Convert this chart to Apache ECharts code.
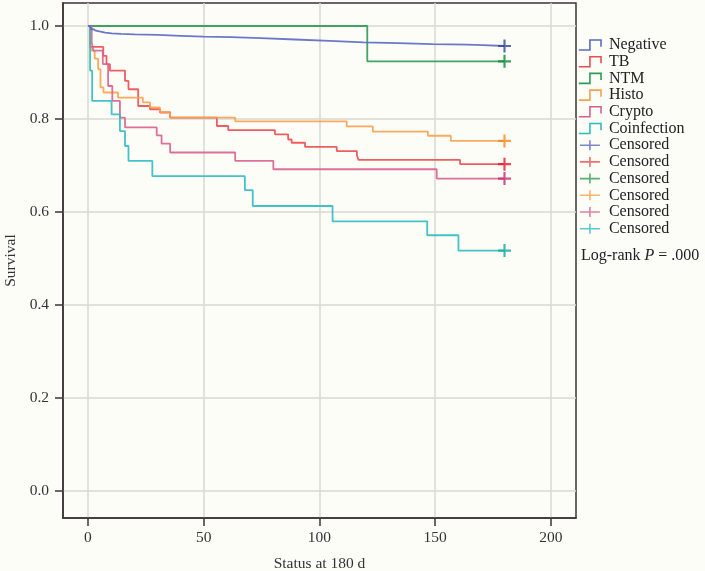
<!DOCTYPE html>
<html>
<head>
<meta charset="utf-8">
<script src="https://cdn.jsdelivr.net/npm/echarts@6/dist/echarts.min.js"></script>
<style>
html,body{margin:0;padding:0;background:#fdfdf8;}
#c{width:705px;height:571px;}
</style>
</head>
<body>
<div id="c"></div>
<script>
// ---- data ----
var groupNames = ['Negative', 'TB', 'NTM', 'Histo', 'Crypto', 'Coinfection'];
var xTicks = [0, 50, 100, 150, 200];
var yTicks = [0.0, 0.2, 0.4, 0.6, 0.8, 1.0];
var censorTime = 180;

var negTime = [0, 0.9, 1.4, 2.4, 3.4, 5.4, 7.4, 10.3, 14.3, 20.2, 30.1, 40.0, 49.9, 61.8, 74.7, 89.5, 104.4, 119.2, 134.1, 148.9, 163.8, 170.7, 180];
var negSurv = [1.0, 0.996, 0.993, 0.990, 0.988, 0.986, 0.984, 0.983, 0.982, 0.981, 0.979, 0.977, 0.976, 0.974, 0.971, 0.968, 0.965, 0.963, 0.961, 0.960, 0.959, 0.957, 0.957];

var tbTime = [0, 0.9, 6.6, 8.0, 9.5, 16.0, 17.5, 21.7, 26.8, 31.1, 35.5, 55.7, 60.6, 80.8, 86.5, 88.0, 93.8, 107.5, 116.2, 116.9, 160.8, 180];
var tbSurv = [1.0, 0.955, 0.936, 0.918, 0.904, 0.882, 0.864, 0.828, 0.821, 0.814, 0.803, 0.785, 0.776, 0.767, 0.756, 0.749, 0.740, 0.731, 0.722, 0.712, 0.703, 0.703];

var ntmTime = [0, 120.7, 180];
var ntmSurv = [1.0, 0.924, 0.924];

var histoTime = [0, 0.9, 1.6, 2.9, 4.4, 5.4, 6.7, 13.0, 23.7, 26.8, 31.1, 35.5, 63.6, 111.8, 123.1, 146.9, 156.8, 180];
var histoSurv = [1.0, 0.955, 0.947, 0.930, 0.907, 0.868, 0.857, 0.846, 0.836, 0.825, 0.815, 0.803, 0.795, 0.784, 0.773, 0.764, 0.753, 0.753];

var cryptoTime = [0, 1.6, 2.3, 6.4, 8.7, 10.5, 13.8, 16.0, 29.7, 31.8, 35.5, 63.6, 80.1, 150.7, 180];
var cryptoSurv = [1.0, 0.965, 0.947, 0.918, 0.871, 0.839, 0.803, 0.782, 0.765, 0.747, 0.728, 0.710, 0.692, 0.672, 0.672];

var coinTime = [0, 0.9, 1.8, 10.2, 13.8, 16.0, 17.5, 27.8, 67.8, 71.2, 105.7, 146.6, 160.1, 180];
var coinSurv = [1.0, 0.904, 0.839, 0.810, 0.774, 0.742, 0.710, 0.677, 0.647, 0.613, 0.580, 0.550, 0.517, 0.517];

var censorSurv = [0.957, 0.703, 0.924, 0.753, 0.672, 0.517];

// ---- styles ----
var lineColors = ['#5b69c4', '#ee4b4f', '#2f9a55', '#f8a14e', '#d8608f', '#2fbcc0'];
var markColors = ['#2c469e', '#e8182e', '#0a8a3c', '#f5891c', '#c9286c', '#10a6a8'];
var FONT = 'Liberation Serif';
var FS = 15.5;

function pairs(t, s) { return t.map(function (v, i) { return [v, s[i]]; }); }
var timeSets = [negTime, tbTime, ntmTime, histoTime, cryptoTime, coinTime];
var survSets = [negSurv, tbSurv, ntmSurv, histoSurv, cryptoSurv, coinSurv];

var plusPath = 'path://M5,0 L7,0 L7,5 L12,5 L12,7 L7,7 L7,12 L5,12 L5,7 L0,7 L0,5 L5,5 Z';
var stepIcon = 'path://M0,10 L10,10 L10,1 L20,1 L20,7';
var crossIcon = 'path://M0,5 L20,5 M10,0 L10,10';

var series = [];
var legendData = [];
groupNames.forEach(function (g, i) {
  series.push({
    name: g, type: 'line', step: 'end', showSymbol: false, symbol: 'none',
    data: pairs(timeSets[i], survSets[i]),
    lineStyle: { color: lineColors[i], width: 1.8, opacity: 0.9 },
    itemStyle: { color: lineColors[i] },
    animation: false, z: 3 + (i === 0 ? 1 : 0)
  });
  legendData.push({ name: g, icon: stepIcon,
    itemStyle: { color: 'transparent', borderColor: lineColors[i], borderWidth: 1.6 } });
});
groupNames.forEach(function (g, i) {
  var nm = 'Censored' + i;
  series.push({
    name: nm, type: 'scatter', symbol: plusPath, symbolSize: 13,
    data: [[censorTime, censorSurv[i]]],
    itemStyle: { color: markColors[i] }, animation: false, z: 5
  });
  legendData.push({ name: nm, icon: crossIcon,
    itemStyle: { color: 'transparent', borderColor: lineColors[i], borderWidth: 1.6 } });
});

var chart = echarts.init(document.getElementById('c'), null, { renderer: 'canvas' });
chart.setOption({
  backgroundColor: '#fdfdf8',
  textStyle: { fontFamily: FONT },
  grid: { left: 63, top: 3, right: 129, bottom: 53, containLabel: false,
    outerBoundsMode: 'none',
    show: true, borderColor: '#3a3434', borderWidth: 1.5, backgroundColor: '#fdfdf8' },
  xAxis: {
    type: 'value', min: -10.8, max: 210.9, interval: 50,
    name: 'Status at 180 d', nameLocation: 'middle', nameGap: 38,
    nameTextStyle: { fontFamily: FONT, fontSize: FS, color: '#333' },
    axisLine: { show: true, onZero: false, lineStyle: { color: '#3a3434', width: 1.5 } },
    axisTick: { show: true, length: 8, lineStyle: { color: '#3a3434', width: 1.5 }, customValues: xTicks },
    axisLabel: { fontFamily: FONT, fontSize: FS, color: '#333', margin: 12, customValues: xTicks },
    splitLine: { show: true, lineStyle: { color: '#d9d9d5', width: 1.5 } }
  },
  yAxis: {
    type: 'value', min: -0.058, max: 1.0495, interval: 0.2,
    name: 'Survival', nameLocation: 'middle', nameGap: 44,
    nameTextStyle: { fontFamily: FONT, fontSize: FS, color: '#333' },
    axisLine: { show: true, onZero: false, lineStyle: { color: '#3a3434', width: 1.5 } },
    axisTick: { show: true, length: 8, lineStyle: { color: '#3a3434', width: 1.5 }, customValues: yTicks },
    axisLabel: { fontFamily: FONT, fontSize: FS, color: '#333', margin: 14, customValues: yTicks,
      formatter: function (v) { return v.toFixed(1); } },
    splitLine: { show: true, lineStyle: { color: '#d9d9d5', width: 1.5 } }
  },
  legend: {
    orient: 'vertical', left: 573, top: 32,
    itemWidth: 24, itemHeight: 10, itemGap: 0.7,
    data: legendData, selectedMode: false,
    textStyle: { fontFamily: FONT, fontSize: 16, color: '#222', padding: [0, 0, 0, 2] },
    formatter: function (n) { return n.replace(/\d+$/, ''); }
  },
  graphic: [
    { type: 'text', left: 581, top: 248, z: 10,
      style: { text: '{a|Log-rank }{b|P}{a| = .000}',
        rich: { a: { fontFamily: FONT, fontSize: 16, fill: '#222' },
                b: { fontFamily: FONT, fontSize: 16, fontStyle: 'italic', fill: '#222' } } } }
  ],
  series: series
});
</script>
</body>
</html>
